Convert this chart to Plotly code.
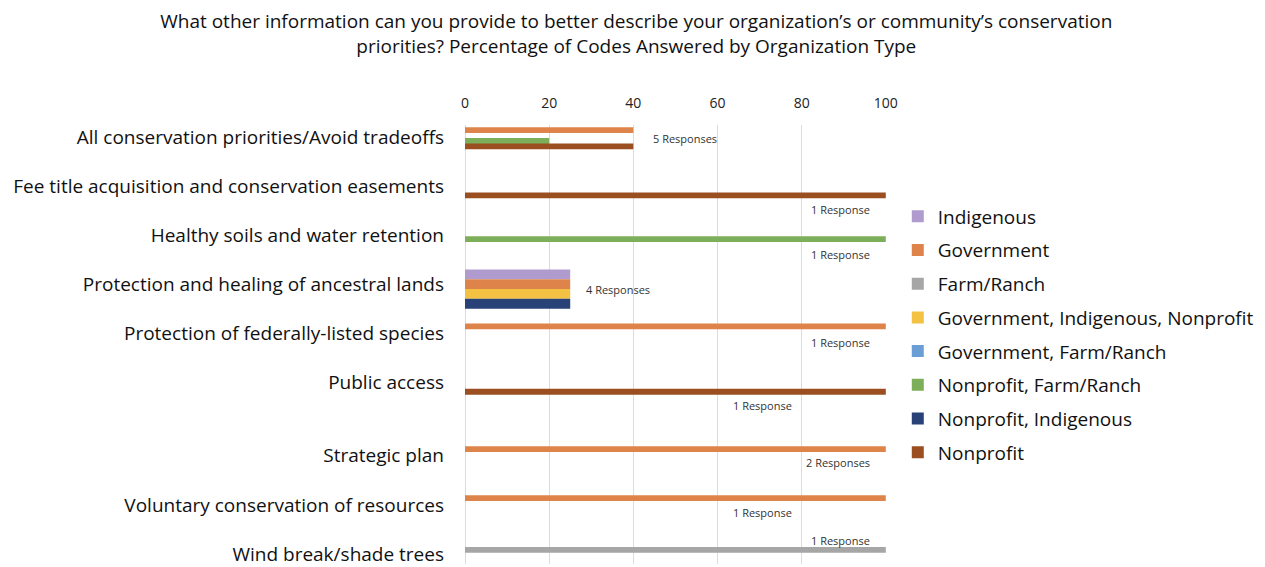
import plotly.graph_objects as go

# Survey rows (top to bottom)
categories = [
    "All conservation priorities/Avoid tradeoffs",
    "Fee title acquisition and conservation easements",
    "Healthy soils and water retention",
    "Protection and healing of ancestral lands",
    "Protection of federally-listed species",
    "Public access",
    "Strategic plan",
    "Voluntary conservation of resources",
    "Wind break/shade trees",
]

# Organization types, in legend order
series_names = [
    "Indigenous",
    "Government",
    "Farm/Ranch",
    "Government, Indigenous, Nonprofit",
    "Government, Farm/Ranch",
    "Nonprofit, Farm/Ranch",
    "Nonprofit, Indigenous",
    "Nonprofit",
]

# Percentage of codes answered, per organization type (one value per row)
indigenous = [0, 0, 0, 25, 0, 0, 0, 0, 0]
government = [40, 0, 0, 25, 100, 0, 100, 100, 0]
farm_ranch = [0, 0, 0, 0, 0, 0, 0, 0, 100]
gov_ind_nonprofit = [0, 0, 0, 25, 0, 0, 0, 0, 0]
gov_farm_ranch = [0, 0, 0, 0, 0, 0, 0, 0, 0]
nonprofit_farm_ranch = [20, 0, 100, 0, 0, 0, 0, 0, 0]
nonprofit_indigenous = [0, 0, 0, 25, 0, 0, 0, 0, 0]
nonprofit = [40, 100, 0, 0, 0, 100, 0, 0, 0]

# Number of responses behind each row
responses = [5, 1, 1, 4, 1, 1, 2, 1, 1]

x_ticks = [0, 20, 40, 60, 80, 100]

series_values = [
    indigenous, government, farm_ranch, gov_ind_nonprofit,
    gov_farm_ranch, nonprofit_farm_ranch, nonprofit_indigenous, nonprofit,
]

colors = [
    "#b09bcf", "#de844a", "#a6a6a6", "#f4c242",
    "#6c9ed6", "#7daf5a", "#284278", "#9b4e20",
]

# ---- layout / styling ----
FONT = "'Open Sans', 'Liberation Sans', Arial, sans-serif"
SLOT = 0.055      # spacing between series slots within a row (row units)
BAR_W = 0.12      # bar thickness (row units)
BLOCK_W = 0.20    # bar thickness for rows drawn as a solid block
block_rows = {"Protection and healing of ancestral lands"}
gap_after = "Public access"   # extra half-row of space after this row

# Row positions on the vertical axis
row_pos = []
shift = 0.0
for i, c in enumerate(categories):
    row_pos.append(i + shift)
    if c == gap_after:
        shift += 0.5

# Response-count label placement: x in axis units, y offset from row centre
label_x = [52.3, 89.3, 89.3, 36.3, 89.3, 70.8, 88.6, 70.8, 89.3]
label_dy = [0.04, 0.47, 0.39, 0.10, 0.20, 0.47, 0.14, 0.16, -0.28]

fig = go.Figure()
n_series = len(series_names)
for si, (name, vals, col) in enumerate(zip(series_names, series_values, colors)):
    offsets, widths = [], []
    for ri, cat in enumerate(categories):
        if cat in block_rows:
            present = [k for k in range(n_series) if series_values[k][ri] > 0]
            k = present.index(si) if si in present else 0
            offsets.append(-len(present) * BLOCK_W / 2 + k * BLOCK_W + 0.1)
            widths.append(BLOCK_W)
        else:
            centre = (si - (n_series - 1) / 2) * SLOT
            offsets.append(centre - BAR_W / 2)
            widths.append(BAR_W)
    fig.add_trace(go.Bar(
        name=name,
        x=vals,
        y=row_pos,
        orientation="h",
        offset=offsets,
        width=widths,
        marker=dict(color=col, line=dict(width=0)),
        legendgroup=name,
    ))

for ri, n in enumerate(responses):
    fig.add_annotation(
        x=label_x[ri], y=row_pos[ri] + label_dy[ri],
        text=f"{n} Response" + ("s" if n != 1 else ""),
        showarrow=False, xref="x", yref="y",
        font=dict(family=FONT, size=11, color="#333333"),
    )

top_px, bottom_px, height = 125, 0, 567
unit = 49.4
y_top = row_pos[0] - (137 - top_px) / unit
y_bottom = y_top + (height - top_px - bottom_px) / unit

fig.update_layout(
    width=1265, height=567,
    margin=dict(l=465, r=379, t=top_px, b=bottom_px),
    paper_bgcolor="white", plot_bgcolor="white",
    barmode="overlay",
    title=dict(
        text="What other information can you provide to better describe your organization’s or community’s conservation<br>"
             "priorities? Percentage of Codes Answered by Organization Type",
        x=0.503, xanchor="center", xref="container",
        y=1 - 28 / 567, yanchor="middle", yref="container",
        font=dict(family=FONT, size=19, color="#111111"),
    ),
    xaxis=dict(
        side="top", range=[0, 100.05], tickvals=x_ticks,
        showgrid=True, gridcolor="#dcdcdc", gridwidth=1,
        zeroline=True, zerolinecolor="#dcdcdc", zerolinewidth=1,
        showline=False, ticks="", ticklabelstandoff=13,
        tickfont=dict(family=FONT, size=14, color="#222222"),
        fixedrange=True,
    ),
    yaxis=dict(
        range=[y_bottom, y_top], tickvals=row_pos, ticktext=categories,
        showgrid=False, zeroline=False, showline=False, ticks="",
        ticklabelstandoff=20, ticklabeloverflow="allow",
        tickfont=dict(family=FONT, size=19, color="#111111"),
        fixedrange=True,
    ),
    legend=dict(
        x=1.028, xanchor="left", y=0.835, yanchor="top",
        traceorder="grouped", tracegroupgap=6,
        font=dict(family=FONT, size=19, color="#111111"),
        bgcolor="rgba(0,0,0,0)",
    ),
    showlegend=True,
)

fig.write_html("out.html")
